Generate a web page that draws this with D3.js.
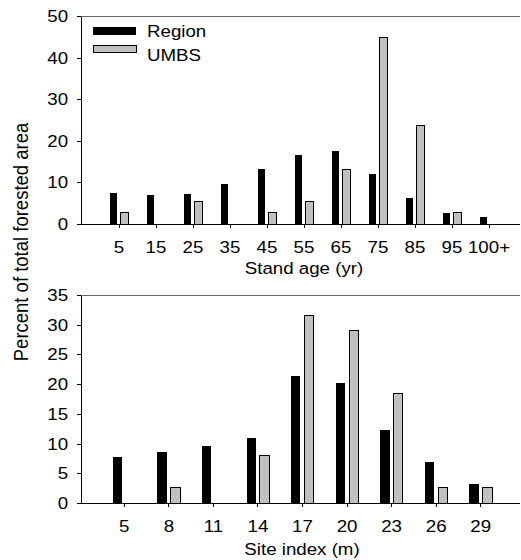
<!DOCTYPE html>
<html>
<head>
<meta charset="utf-8">
<script src="https://cdn.jsdelivr.net/npm/d3@7"></script>
<style>
  body { margin: 0; background: #fff; }
</style>
</head>
<body>
<script>
// stand age classes (yr)
const ageCats = ["5", "15", "25", "35", "45", "55", "65", "75", "85", "95", "100+"];
const ageRegion = [7.5, 7.0, 7.1, 9.7, 13.3, 16.5, 17.5, 12.1, 6.2, 2.7, 1.7];
const ageUMBS = [2.7, 0, 5.4, 0, 2.7, 5.4, 13.2, 44.8, 23.7, 2.7, 0];

// site index classes (m)
const siteCats = ["5", "8", "11", "14", "17", "20", "23", "26", "29"];
const siteRegion = [7.7, 8.5, 9.6, 10.9, 21.4, 20.2, 12.3, 6.85, 3.25];
const siteUMBS = [0, 2.6, 0, 8.0, 31.6, 29.0, 18.5, 2.6, 2.6];

const seriesNames = ["Region", "UMBS"];
const seriesFill = { Region: "#000", UMBS: "#c0c0c0" };

const W = 521, H = 560;
const SX = 1.1; // text looks a bit wide in the original
const FONT = "'Liberation Sans', Arial, Helvetica, sans-serif";

const svg = d3.select("body").append("svg")
  .attr("width", W).attr("height", H)
  .style("font-family", FONT);

function label(x, y, s, size, anchor, rot) {
  svg.append("text")
    .attr("transform", `translate(${x},${y}) scale(${SX},1)` + (rot ? ` rotate(${rot})` : ""))
    .attr("text-anchor", anchor)
    .attr("font-size", size)
    .attr("fill", "#000")
    .text(s);
}

function panel(p) {
  const x = d3.scaleBand().domain(p.cats).range([p.bandLo, p.bandHi]).padding(0);
  const xs = d3.scaleBand().domain(seriesNames)
    .range([x.bandwidth() * 0.245, x.bandwidth() * 0.755])
    .paddingInner(0.3).paddingOuter(0);
  const y = d3.scaleLinear().domain([0, p.ymax]).range([p.bottom, p.top]);

  const g = svg.append("g");

  // top frame line
  g.append("line")
    .attr("x1", p.left).attr("x2", 520)
    .attr("y1", y(p.ymax)).attr("y2", y(p.ymax))
    .attr("stroke", "#666").attr("stroke-width", 1)
    .attr("shape-rendering", "crispEdges");

  const rows = p.cats.map((c, i) => ({ cat: c, Region: p.region[i], UMBS: p.umbs[i] }));

  seriesNames.forEach(s => {
    g.append("g").selectAll("rect")
      .data(rows.filter(d => d[s] > 0))
      .join("rect")
      .attr("x", d => x(d.cat) + xs(s))
      .attr("width", xs.bandwidth())
      .attr("y", d => y(d[s]))
      .attr("height", d => y(0) - y(d[s]))
      .attr("fill", seriesFill[s])
      .attr("stroke", s === "UMBS" ? "#000" : "none")
      .attr("stroke-width", 1)
      .attr("shape-rendering", "crispEdges");
  });

  // x axis
  const xa = g.append("g")
    .attr("transform", `translate(0,${y(0)})`)
    .call(d3.axisBottom(x).tickSize(4).tickPadding(13).tickSizeOuter(0));
  xa.select(".domain").remove();
  xa.attr("font-family", FONT).attr("font-size", 17);
  xa.selectAll(".tick line").attr("stroke", "#000").attr("shape-rendering", "crispEdges");
  xa.selectAll(".tick text").attr("fill", "#000").attr("transform", `scale(${SX},1)`);
  g.append("line")
    .attr("x1", p.left).attr("x2", 520)
    .attr("y1", y(0)).attr("y2", y(0))
    .attr("stroke", "#000").attr("shape-rendering", "crispEdges");

  // y axis
  const ya = g.append("g")
    .attr("transform", `translate(${p.left},0)`)
    .call(d3.axisLeft(y).tickValues(d3.range(0, p.ymax + 1, p.ystep))
      .tickSize(4).tickPadding(7.8).tickSizeOuter(0));
  ya.attr("font-family", FONT).attr("font-size", 17);
  ya.select(".domain").attr("stroke", "#000").attr("shape-rendering", "crispEdges");
  ya.selectAll(".tick line").attr("stroke", "#000").attr("shape-rendering", "crispEdges");
  ya.selectAll(".tick text").attr("fill", "#000").attr("transform", `scale(${SX},1)`);

  label(p.titleX, p.titleY, p.title, 17, "middle");
}

panel({
  cats: ageCats, region: ageRegion, umbs: ageUMBS,
  ymax: 50, ystep: 10, top: 16, bottom: 224, left: 81,
  bandLo: 100.5, bandHi: 507.5,
  title: "Stand age (yr)", titleX: 304, titleY: 274
});

panel({
  cats: siteCats, region: siteRegion, umbs: siteUMBS,
  ymax: 35, ystep: 5, top: 295, bottom: 503, left: 81,
  bandLo: 102, bandHi: 503,
  title: "Site index (m)", titleX: 302, titleY: 555
});

// legend
const legend = svg.append("g");
const legY = d3.scaleBand().domain(seriesNames).range([24, 60]);
seriesNames.forEach(s => {
  legend.append("rect")
    .attr("x", 93).attr("width", 43)
    .attr("y", legY(s) + 3).attr("height", s === "Region" ? 7.5 : 7)
    .attr("fill", seriesFill[s])
    .attr("stroke", s === "UMBS" ? "#000" : "none")
    .attr("shape-rendering", "crispEdges");
});
label(147, 37, "Region", 17, "start");
label(147, 60.5, "UMBS", 17, "start");

// shared y title
label(28, 242, "Percent of total forested area", 18.5, "middle", -90);
</script>
</body>
</html>
